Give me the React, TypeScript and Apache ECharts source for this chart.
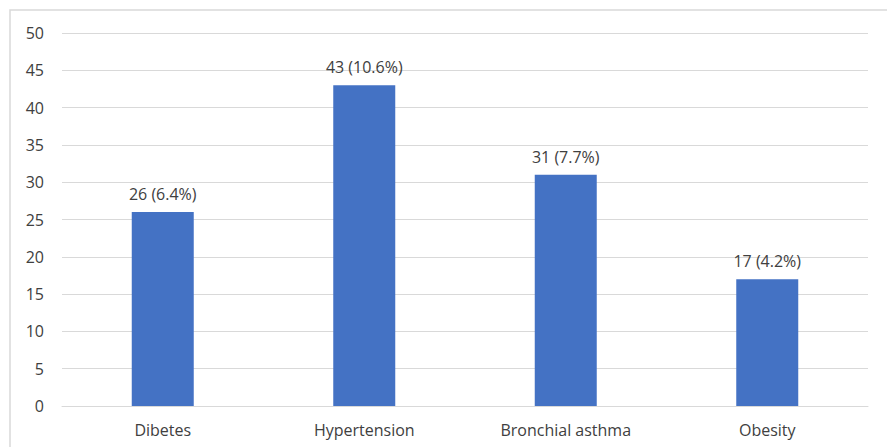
import React, { useEffect, useRef } from "react";
import * as echarts from "echarts";

const categories = ["Dibetes", "Hypertension", "Bronchial asthma", "Obesity"];
const counts = [26, 43, 31, 17];
const percents = ["6.4%", "10.6%", "7.7%", "4.2%"];

const FONT = "'Open Sans', Lato, sans-serif";
const TEXT = "#404040";
const GRID = "#d9d9d9";

export default function App() {
  const ref = useRef<HTMLDivElement>(null);

  useEffect(() => {
    if (!ref.current) return;
    const chart = echarts.init(ref.current, null, { renderer: "svg" });
    chart.setOption({
      animation: false,
      backgroundColor: "#ffffff",
      graphic: [
        {
          type: "rect",
          shape: { x: 10, y: 10, width: 900, height: 460 },
          style: { fill: "none", stroke: GRID, lineWidth: 1.5 },
          z: -1,
        },
      ],
      grid: { left: 62, right: 19, top: 33, bottom: 41 },
      xAxis: {
        type: "category",
        data: categories,
        axisLine: { show: true, lineStyle: { color: GRID, width: 1 } },
        axisTick: { show: false },
        axisLabel: { color: TEXT, fontFamily: FONT, fontSize: 16, margin: 16 },
      },
      yAxis: {
        type: "value",
        min: 0,
        max: 50,
        interval: 5,
        axisLine: { show: false },
        axisTick: { show: false },
        axisLabel: { color: TEXT, fontFamily: FONT, fontSize: 16, margin: 18 },
        splitLine: { lineStyle: { color: GRID, width: 1 } },
      },
      series: [
        {
          type: "bar",
          data: counts,
          barWidth: 62,
          itemStyle: { color: "#4472C4" },
          label: {
            show: true,
            position: "top",
            distance: 10,
            color: TEXT,
            fontFamily: FONT,
            fontSize: 16,
            formatter: (p: any) => `${counts[p.dataIndex]} (${percents[p.dataIndex]})`,
          },
        },
      ],
    });
    return () => chart.dispose();
  }, []);

  return (
    <div
      ref={ref}
      style={{ position: "fixed", left: 0, top: 0, width: 887, height: 447 }}
    />
  );
}
